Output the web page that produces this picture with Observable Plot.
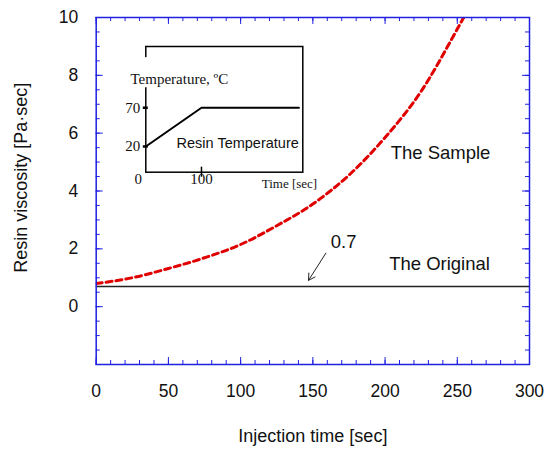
<!DOCTYPE html>
<html><head><meta charset="utf-8">
<script src="https://cdn.jsdelivr.net/npm/d3@7"></script>
<script src="https://cdn.jsdelivr.net/npm/@observablehq/plot@0.6"></script>
<style>
body{margin:0;background:#fff;}
#wrap{position:relative;width:552px;height:457px;overflow:hidden;}
#inset{position:absolute;left:100px;top:30px;width:220px;height:170px;}
</style></head><body><div id="wrap"><div id="main"></div><div id="inset"></div></div>
<script>
// ---- data ----
const sampleTime = [0, 25, 50, 75, 100, 125, 150, 175, 200, 225, 250, 255];
const sampleVisc = [0.8, 1.0, 1.32, 1.69, 2.15, 2.8, 3.55, 4.55, 5.85, 7.45, 9.6, 10.05];
const originalVisc = 0.7;
const xTickLabels = [0, 50, 100, 150, 200, 250, 300];
const yTickLabels = [0, 2, 4, 6, 8, 10];
const xMinorTicks = d3.range(0, 301, 10);
const yMinorTicks = d3.range(-2, 10.01, 0.5);
const xMajorTicks = d3.range(0, 301, 50);
const yMajorTicks = d3.range(-2, 10.01, 2);
const annotLabels = ["The Sample", "The Original", "0.7"];
const annotTime = [238.4, 237.7, 171.3];
const annotVisc = [5.31, 1.47, 2.23];
const arrowFrom = [159, 1.85];
const arrowTo = [147, 0.91];
// inset
const tempTime = [0, 100, 275];
const tempValue = [20, 70, 70];
const insetYTicks = [20, 70];
const insetXTickMarks = [100];

// ---- main chart ----
const W = 552, H = 457, mL = 95.7, mR = 23, mT = 17, mB = 93;
const plotW = W - mL - mR, plotH = H - mT - mB;
const blue = "#2020e0";
const sans = "Arial, 'Liberation Sans', Helvetica, sans-serif";
const serif = "'Times New Roman', 'Liberation Serif', serif";
const sample = sampleTime.map((t, i) => ({t, v: sampleVisc[i]}));
const annots = annotLabels.map((label, i) => ({label, t: annotTime[i], v: annotVisc[i]}));

const main = Plot.plot({
  width: W, height: H,
  marginLeft: mL, marginRight: mR, marginTop: mT, marginBottom: mB,
  style: {fontFamily: sans, background: "white", color: "#111"},
  x: {domain: [0, 300]},
  y: {domain: [-2, 10]},
  marks: [
    Plot.ruleY([originalVisc], {stroke: "#222", strokeWidth: 1.5}),
    Plot.line(sample, {x: "t", y: "v", stroke: "#e00000", strokeWidth: 3, strokeDasharray: "6,4", curve: "monotone-x", clip: true}),
    Plot.arrow([{}], {x1: () => arrowFrom[0], y1: () => arrowFrom[1], x2: () => arrowTo[0], y2: () => arrowTo[1], stroke: "#222", strokeWidth: 1, headLength: 11}),
    Plot.text(annots, {x: "t", y: "v", text: "label", fontSize: 18.5, fill: "#111"}),
    Plot.frame({stroke: blue, strokeWidth: 1.5}),
    Plot.tickY(yMinorTicks, {y: d => d, stroke: blue, insetRight: plotW - 4}),
    Plot.tickY(yMajorTicks, {y: d => d, stroke: blue, insetRight: plotW - 7}),
    Plot.tickY(yMinorTicks, {y: d => d, stroke: blue, insetLeft: plotW - 4}),
    Plot.tickY(yMajorTicks, {y: d => d, stroke: blue, insetLeft: plotW - 7}),
    Plot.tickX(xMinorTicks, {x: d => d, stroke: blue, insetTop: plotH - 4}),
    Plot.tickX(xMajorTicks, {x: d => d, stroke: blue, insetTop: plotH - 7}),
    Plot.tickX(xMinorTicks, {x: d => d, stroke: blue, insetBottom: plotH - 4}),
    Plot.tickX(xMajorTicks, {x: d => d, stroke: blue, insetBottom: plotH - 7}),
    Plot.axisX(xTickLabels, {tickSize: 0, tickPadding: 20, fontSize: 17.5, label: null}),
    Plot.axisY(yTickLabels, {tickSize: 0, tickPadding: 18, fontSize: 17.5, label: null}),
    Plot.text(["Injection time [sec]"], {frameAnchor: "bottom", dy: 77.7, fontSize: 18, fill: "#111"}),
    Plot.text(["Resin viscosity [Pa·sec]"], {frameAnchor: "left", textAnchor: "middle", rotate: -90, dx: -74.7, dy: -13.3, fontSize: 18, fill: "#111"})
  ]
});
document.getElementById("main").appendChild(main);

// ---- inset chart ----
const iW = 220, iH = 170, iL = 45.3, iR = 17.7, iT = 16, iB = 28.3;
const iPlotW = iW - iL - iR, iPlotH = iH - iT - iB;
const temp = tempTime.map((t, i) => ({t, v: tempValue[i]}));
const gapLow = 95.8, gapHigh = 134.6;

const inset = Plot.plot({
  width: iW, height: iH,
  marginLeft: iL, marginRight: iR, marginTop: iT, marginBottom: iB,
  style: {fontFamily: serif, background: "transparent", color: "#111", overflow: "visible"},
  x: {domain: [0, 282], axis: null},
  y: {domain: [-13.2, 149], axis: null},
  marks: [
    Plot.frame({stroke: "black", strokeWidth: 1.5}),
    Plot.ruleX([0], {y1: gapLow, y2: gapHigh, stroke: "white", strokeWidth: 4}),
    Plot.line(temp, {x: "t", y: "v", stroke: "black", strokeWidth: 2}),
    Plot.tickY(insetYTicks, {y: d => d, stroke: "black", strokeWidth: 2.5, insetRight: iPlotW - 5, dx: -2.5}),
    Plot.tickX(insetXTickMarks, {x: d => d, stroke: "black", strokeWidth: 1.5, insetTop: iPlotH - 10, dy: 5}),
    Plot.text(insetYTicks, {y: d => d, frameAnchor: "left", textAnchor: "end", dx: -5.5, fontSize: 15, fill: "#111"}),
    Plot.text([0], {x: d => d, frameAnchor: "bottom", dy: 11.3, dx: -7.6, fontSize: 15, fill: "#111"}),
    Plot.text([100], {x: d => d, frameAnchor: "bottom", dy: 11.3, fontSize: 15, fill: "#111"}),
    Plot.text(["Time [sec]"], {frameAnchor: "bottom-right", textAnchor: "end", dx: 14.4, dy: 16, fontSize: 13, fill: "#111"}),
    Plot.text(["Temperature, ºC"], {frameAnchor: "top-left", textAnchor: "start", dx: -15.3, dy: 27.3, fontSize: 15, fill: "#111"}),
    Plot.text(["Resin Temperature"], {frameAnchor: "bottom-right", textAnchor: "end", dx: -4, dy: -24.4, fontSize: 14.5, fontFamily: sans, fill: "#111"})
  ]
});
document.getElementById("inset").appendChild(inset);
</script>
</body></html>
